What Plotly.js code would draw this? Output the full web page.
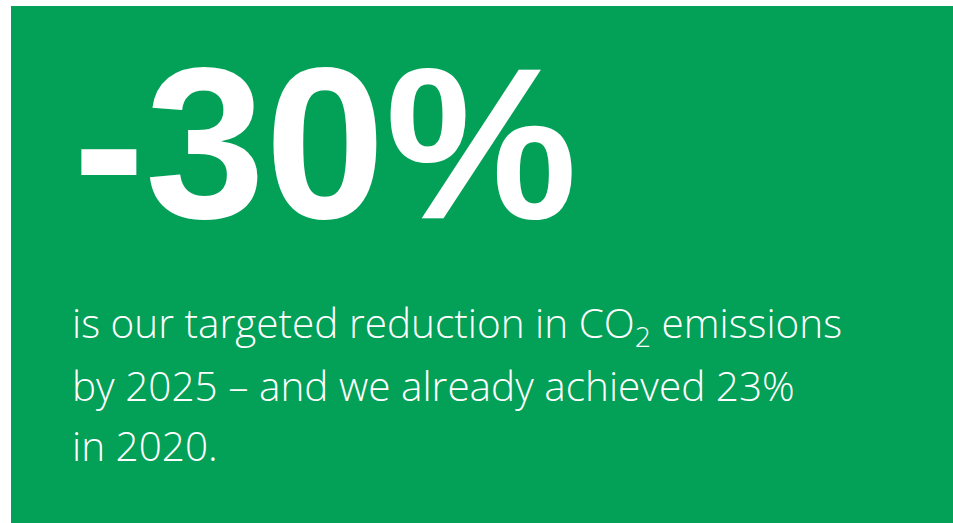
<!DOCTYPE html>
<html>
<head>
<meta charset="utf-8">
<script src="https://cdn.plot.ly/plotly-3.0.1.min.js"></script>
<style>html,body{margin:0;padding:0;background:#fff;}#chart{width:953px;height:523px;}</style>
</head>
<body>
<div id="chart"></div>
<script>
// Data
var reductionTarget = -30;      // % targeted CO2 reduction
var targetYear = 2025;
var achievedReduction = 23;     // % already achieved
var achievedYear = 2020;
var bodyLines = [
  "is our targeted reduction in CO<sub>2</sub> emissions",
  "by " + targetYear + " \u2013 and we already achieved " + achievedReduction + "%",
  "in " + achievedYear + "."
];

var W = 953, H = 523;
var green = "#03A057";
function px(x){ return x / W; }
function py(y){ return 1 - y / H; }

var annotations = [{
  text: reductionTarget + "%",
  x: px(71), y: py(143), xref: "paper", yref: "paper",
  xanchor: "left", yanchor: "middle", showarrow: false,
  font: {family: "Liberation Sans", size: 216, color: "#fff", weight: 700}
}];
var baselines = [337, 397, 457];
bodyLines.forEach(function(t, i){
  annotations.push({
    text: t, x: px(70), y: py(baselines[i] - 12), xref: "paper", yref: "paper",
    xanchor: "left", yanchor: "middle", showarrow: false,
    font: {family: "Open Sans", size: 40.5, color: "#fff", weight: 300}
  });
});

var layout = {
  width: W, height: H,
  margin: {l: 0, r: 0, t: 0, b: 0},
  paper_bgcolor: "#fff", plot_bgcolor: "rgba(0,0,0,0)",
  xaxis: {visible: false, range: [0, 1]},
  yaxis: {visible: false, range: [0, 1]},
  showlegend: false,
  shapes: [{type: "rect", xref: "paper", yref: "paper",
    x0: px(11), x1: 1, y0: 0, y1: py(6),
    fillcolor: green, line: {width: 0}, layer: "below"}],
  annotations: annotations
};
Plotly.newPlot("chart", [], layout, {staticPlot: true, displayModeBar: false});
</script>
</body>
</html>
